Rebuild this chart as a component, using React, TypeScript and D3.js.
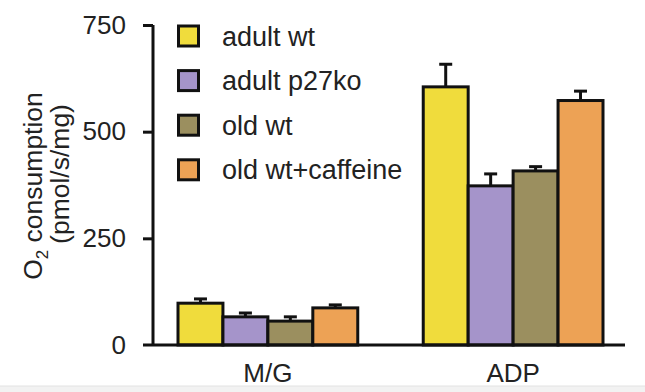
import React, { useEffect, useRef } from "react";
import { select, scaleBand, scaleLinear, axisLeft } from "d3";

const categories = ["M/G", "ADP"];
const seriesNames = ["adult wt", "adult p27ko", "old wt", "old wt+caffeine"];
const seriesColors = ["#f0dc3c", "#a594ca", "#9b8f5f", "#eda255"];
// means and SEM per category, in series order
const mgMeans = [98, 66, 56, 87];
const mgErrors = [10, 9, 10, 7];
const adpMeans = [605, 373, 408, 573];
const adpErrors = [53, 28, 10, 22];
const yTicks = [0, 250, 500, 750];

const FONT = "'Liberation Sans', Arial, sans-serif";

function BarChart() {
    const svgRef = useRef<SVGSVGElement>(null);

    useEffect(() => {
        const svg = select(svgRef.current);
        svg.selectAll("*").remove();

        const rows = [
            { cat: "M/G", means: mgMeans, errs: mgErrors },
            { cat: "ADP", means: adpMeans, errs: adpErrors },
        ];

        const x0 = scaleBand().domain(categories).range([178, 603]).paddingInner(0.267);
        const x1 = scaleBand().domain(seriesNames).range([0, x0.bandwidth()]);
        const y = scaleLinear().domain([0, 750]).range([345, 25]);

        // bottom strip of the page
        svg.append("rect").attr("x", 0).attr("y", 386).attr("width", 645).attr("height", 6)
            .attr("fill", "#f2f2f2");
        svg.append("line").attr("x1", 0).attr("x2", 645).attr("y1", 386).attr("y2", 386)
            .attr("stroke", "#e2e2e2");

        // bars
        const groups = svg.selectAll(".group")
            .data(rows)
            .join("g")
            .attr("class", "group")
            .attr("transform", d => `translate(${x0(d.cat)},0)`);

        groups.selectAll(".err")
            .data(d => d.means.map((m, i) => ({ m, e: d.errs[i], key: seriesNames[i] })))
            .join("g")
            .attr("class", "err")
            .each(function (d) {
                const g = select(this);
                const cx = x1(d.key)! + x1.bandwidth() / 2;
                g.append("line").attr("x1", cx).attr("x2", cx)
                    .attr("y1", y(d.m)).attr("y2", y(d.m + d.e))
                    .attr("stroke", "#111").attr("stroke-width", 3);
                g.append("line").attr("x1", cx - 6.5).attr("x2", cx + 6.5)
                    .attr("y1", y(d.m + d.e)).attr("y2", y(d.m + d.e))
                    .attr("stroke", "#111").attr("stroke-width", 3);
            });

        groups.selectAll("rect")
            .data(d => d.means.map((m, i) => ({ m, key: seriesNames[i], color: seriesColors[i] })))
            .join("rect")
            .attr("x", d => x1(d.key)!)
            .attr("width", x1.bandwidth())
            .attr("y", d => y(d.m))
            .attr("height", d => y(0) - y(d.m))
            .attr("fill", d => d.color)
            .attr("stroke", "#111")
            .attr("stroke-width", 3);

        // x axis line
        svg.append("line").attr("x1", 143).attr("x2", 625).attr("y1", y(0)).attr("y2", y(0))
            .attr("stroke", "#111").attr("stroke-width", 3);

        svg.selectAll(".cat-label")
            .data(categories)
            .join("text")
            .attr("class", "cat-label")
            .attr("x", d => x0(d)! + x0.bandwidth() / 2)
            .attr("y", 382)
            .attr("text-anchor", "middle")
            .attr("font-size", 26)
            .attr("font-family", FONT)
            .attr("fill", "#222")
            .text(d => d);

        // y axis
        const yAxis = axisLeft(y).tickValues(yTicks).tickSize(10).tickPadding(17);
        const ya = svg.append("g").attr("transform", "translate(153,0)").call(yAxis);
        ya.select(".domain").attr("stroke", "#111").attr("stroke-width", 3)
            .attr("d", `M0,${y(750)}V${y(0)}`);
        ya.selectAll(".tick line").attr("stroke", "#111").attr("stroke-width", 3);
        ya.selectAll(".tick text").attr("font-size", 26).attr("font-family", FONT).attr("fill", "#222");
        ya.selectAll(".tick").filter(d => d === 0).select("line").remove();

        // y title
        const t1 = svg.append("text")
            .attr("transform", "translate(42,186) rotate(-90)")
            .attr("text-anchor", "middle")
            .attr("font-size", 26.5).attr("font-family", FONT).attr("fill", "#222");
        t1.append("tspan").text("O");
        t1.append("tspan").attr("font-size", 17).attr("dy", 6).text("2");
        t1.append("tspan").attr("dy", -6).text(" consumption");

        svg.append("text")
            .attr("transform", "translate(69,174) rotate(-90)")
            .attr("text-anchor", "middle")
            .attr("font-size", 26.5).attr("font-family", FONT).attr("fill", "#222")
            .text("(pmol/s/mg)");

        // legend
        const legend = svg.selectAll(".legend")
            .data(seriesNames)
            .join("g")
            .attr("class", "legend")
            .attr("transform", (d, i) => `translate(177,${36 + i * 44.6})`);
        legend.append("rect")
            .attr("x", 1.5).attr("y", -10)
            .attr("width", 20).attr("height", 20)
            .attr("fill", (d, i) => seriesColors[i])
            .attr("stroke", "#111").attr("stroke-width", 3);
        legend.append("text")
            .attr("x", 45).attr("y", 9.5)
            .attr("font-size", 27).attr("font-family", FONT).attr("fill", "#222")
            .text(d => d);
    }, []);

    return (
        <svg ref={svgRef} width={645} height={392}
            style={{ position: "absolute", left: 0, top: 0, background: "#fff" }} />
    );
}

export default function App() {
    return <BarChart />;
}
